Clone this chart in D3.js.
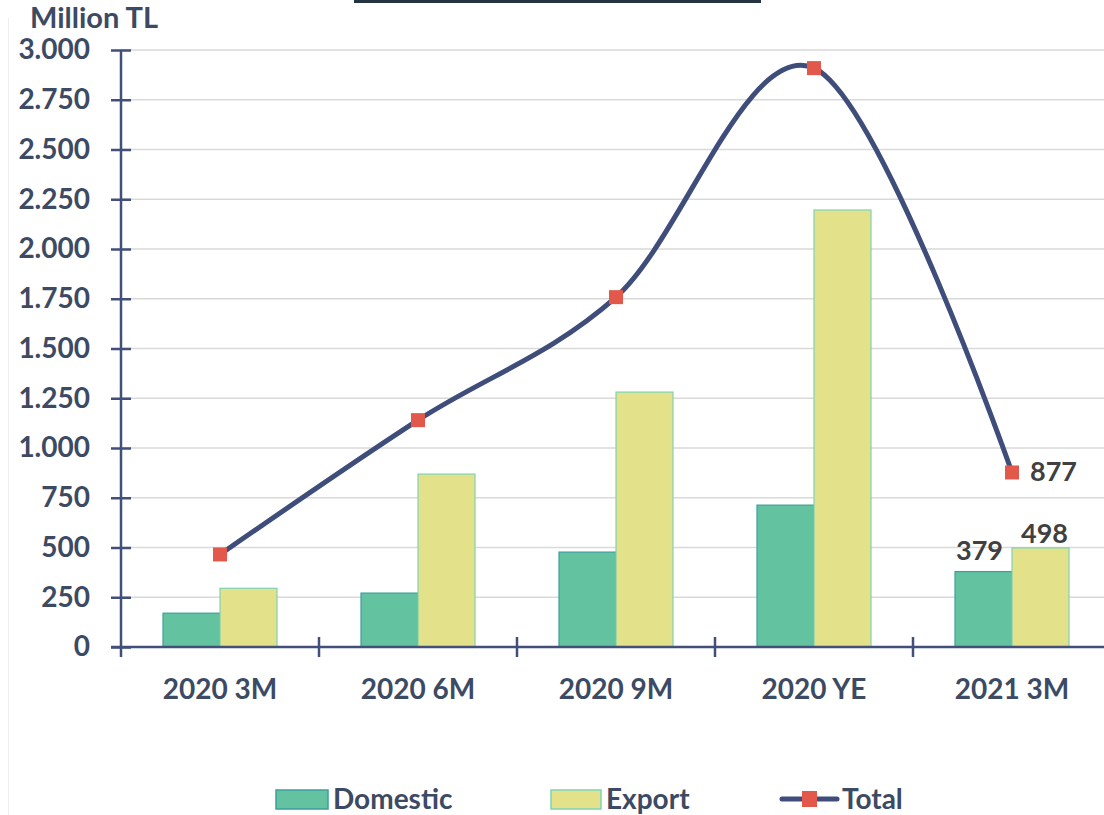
<!DOCTYPE html>
<html>
<head>
<meta charset="utf-8">
<script src="https://cdn.jsdelivr.net/npm/d3@7"></script>
<style>
  body { margin: 0; background: #fff; }
  text { font-family: Lato, "Open Sans", sans-serif; font-weight: bold; }
</style>
</head>
<body>
<svg id="chart"></svg>
<script>
const width = 1104;
const height = 815;

const categories = ["2020 3M", "2020 6M", "2020 9M", "2020 YE", "2021 3M"];
const domestic = [170, 271, 477, 713, 379];
const exportVals = [295, 869, 1281, 2196, 498];
const total = [465, 1140, 1758, 2909, 877];
const yTicks = [0, 250, 500, 750, 1000, 1250, 1500, 1750, 2000, 2250, 2500, 2750, 3000];

const textColor = "#3c4a63";
const axisColor = "#414f7a";

const svg = d3.select("#chart")
  .attr("width", width)
  .attr("height", height);

// top dark strip and left faint border
svg.append("rect").attr("x", 354).attr("y", 0).attr("width", 407).attr("height", 3).attr("fill", "#263340");
svg.append("line").attr("x1", 8.5).attr("x2", 8.5).attr("y1", 18).attr("y2", height)
  .attr("stroke", "#eeeeee").attr("stroke-width", 1);

const x = d3.scaleBand()
  .domain(categories)
  .range([121, 1111]);

const y = d3.scaleLinear()
  .domain([0, 3000])
  .range([647, 50]);

// gridlines
svg.append("g")
  .selectAll("line")
  .data(yTicks.slice(1))
  .join("line")
  .attr("x1", 121).attr("x2", width)
  .attr("y1", d => y(d)).attr("y2", d => y(d))
  .attr("stroke", "#d9d9d9").attr("stroke-width", 1.5);

// bars
const barW = 57;
svg.append("g")
  .selectAll("rect")
  .data(categories)
  .join("rect")
  .attr("x", (d) => x(d) + x.bandwidth() / 2 - barW)
  .attr("y", (d, i) => y(domestic[i]))
  .attr("width", barW)
  .attr("height", (d, i) => y(0) - y(domestic[i]))
  .attr("fill", "#63c3a1")
  .attr("stroke", "#3e9e9c")
  .attr("stroke-width", 1.2);

svg.append("g")
  .selectAll("rect")
  .data(categories)
  .join("rect")
  .attr("x", (d) => x(d) + x.bandwidth() / 2)
  .attr("y", (d, i) => y(exportVals[i]))
  .attr("width", barW)
  .attr("height", (d, i) => y(0) - y(exportVals[i]))
  .attr("fill", "#e3e18a")
  .attr("stroke", "#7fd3b3")
  .attr("stroke-width", 1.2);

// y axis
const yAxis = d3.axisLeft(y)
  .tickValues(yTicks)
  .tickSize(0)
  .tickPadding(31)
  .tickFormat(d => d3.format(",")(d).replace(/,/g, "."));

const gy = svg.append("g")
  .attr("transform", "translate(121,0)")
  .call(yAxis);
gy.select(".domain").remove();
gy.selectAll("text")
  .attr("fill", textColor)
  .style("font-size", "28px");
gy.selectAll(".tick").append("line")
  .attr("x1", -10).attr("x2", 10)
  .attr("stroke", axisColor).attr("stroke-width", 2.5);
svg.append("line")
  .attr("x1", 121).attr("x2", 121)
  .attr("y1", y(3000)).attr("y2", 657)
  .attr("stroke", axisColor).attr("stroke-width", 2.5);

// x axis
svg.append("line")
  .attr("x1", 111).attr("x2", width)
  .attr("y1", y(0)).attr("y2", y(0))
  .attr("stroke", axisColor).attr("stroke-width", 2.5);
svg.append("g")
  .selectAll("line")
  .data(categories.slice(1))
  .join("line")
  .attr("x1", d => x(d)).attr("x2", d => x(d))
  .attr("y1", y(0) - 10).attr("y2", y(0) + 10)
  .attr("stroke", axisColor).attr("stroke-width", 2.5);
svg.append("g")
  .selectAll("text")
  .data(categories)
  .join("text")
  .attr("x", d => x(d) + x.bandwidth() / 2)
  .attr("y", 699)
  .attr("text-anchor", "middle")
  .attr("fill", textColor)
  .style("font-size", "28px")
  .text(d => d);

// unit label
svg.append("text")
  .attr("x", 30).attr("y", 28)
  .attr("fill", textColor)
  .style("font-size", "29px")
  .text("Million TL");

// total line
const line = d3.line()
  .x((d, i) => x(categories[i]) + x.bandwidth() / 2)
  .y(d => y(d))
  .curve(d3.curveCardinal.tension(0));

svg.append("path")
  .datum(total)
  .attr("d", line)
  .attr("fill", "none")
  .attr("stroke", "#3f4d7a")
  .attr("stroke-width", 5);

svg.append("g")
  .selectAll("rect")
  .data(total)
  .join("rect")
  .attr("x", (d, i) => x(categories[i]) + x.bandwidth() / 2 - 7)
  .attr("y", d => y(d) - 7)
  .attr("width", 14).attr("height", 14)
  .attr("fill", "#e2584a");

// data labels for last period
const last = categories.length - 1;
const lastC = x(categories[last]) + x.bandwidth() / 2;
const labelStyle = sel => sel.attr("fill", "#404040").style("font-size", "27px");
svg.append("text").call(labelStyle)
  .attr("x", lastC + 18).attr("y", y(total[last]) + 9)
  .text(total[last]);
svg.append("text").call(labelStyle)
  .attr("x", lastC - barW / 2 - 4).attr("y", y(domestic[last]) - 12)
  .attr("text-anchor", "middle")
  .text(domestic[last]);
svg.append("text").call(labelStyle)
  .attr("x", lastC + barW / 2 + 4).attr("y", y(exportVals[last]) - 5)
  .attr("text-anchor", "middle")
  .text(exportVals[last]);

// legend
const legend = svg.append("g");
legend.append("rect").attr("x", 276).attr("y", 790).attr("width", 52).attr("height", 19)
  .attr("fill", "#63c3a1").attr("stroke", "#3e9e9c").attr("stroke-width", 1.5);
legend.append("text").attr("x", 333).attr("y", 809).attr("fill", textColor)
  .style("font-size", "28px").text("Domestic");
legend.append("rect").attr("x", 551).attr("y", 790).attr("width", 50).attr("height", 19)
  .attr("fill", "#e3e18a").attr("stroke", "#7fd3b3").attr("stroke-width", 1.5);
legend.append("text").attr("x", 606).attr("y", 809).attr("fill", textColor)
  .style("font-size", "28px").text("Export");
legend.append("line").attr("x1", 782).attr("x2", 837).attr("y1", 799).attr("y2", 799)
  .attr("stroke", "#3f4d7a").attr("stroke-width", 5).attr("stroke-linecap", "round");
legend.append("rect").attr("x", 802).attr("y", 791).attr("width", 15).attr("height", 16)
  .attr("fill", "#e2584a");
legend.append("text").attr("x", 842).attr("y", 809).attr("fill", textColor)
  .style("font-size", "28px").text("Total");
</script>
</body>
</html>
